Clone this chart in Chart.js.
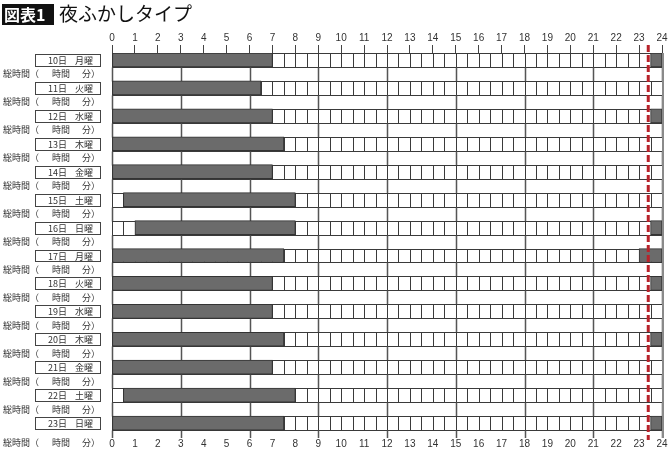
<!DOCTYPE html>
<html lang="ja">
<head>
<meta charset="utf-8">
<title>図表1 夜ふかしタイプ</title>
<script src="https://cdn.jsdelivr.net/npm/chart.js@4.4.1/dist/chart.umd.min.js"></script>
<style>
  html, body { margin: 0; padding: 0; background: #fff; }
  .chart-container { position: relative; width: 670px; height: 450px; }
</style>
</head>
<body>
<div class="chart-container">
  <canvas id="sleep-chart"></canvas>
</div>
<script>
// Sleep diary data (hours, 0-24)
const days = ['10日', '11日', '12日', '13日', '14日', '15日', '16日', '17日', '18日', '19日', '20日', '21日', '22日', '23日'];
const weekdays = ['月曜', '火曜', '水曜', '木曜', '金曜', '土曜', '日曜', '月曜', '火曜', '水曜', '木曜', '金曜', '土曜', '日曜'];
const sleepStart = [0, 0, 0, 0, 0, 0.5, 1, 0, 0, 0, 0, 0, 0.5, 0];
const sleepEnd = [7, 6.5, 7, 7.5, 7, 8, 8, 7.5, 7, 7, 7.5, 7, 8, 7.5];
const lateStart = [23.5, null, 23.5, null, null, null, 23.5, 23, 23.5, null, 23.5, null, null, 23.5];
const lateEnd = [24, null, 24, null, null, null, 24, 24, 24, null, 24, null, null, 24];
const bedLine = 23.4;   // red dashed line
const hourMin = 0;
const hourMax = 24;

const FONT = '"Noto Sans CJK JP", "Noto Sans", sans-serif';
const INK = '#333';

// each day uses two rows: the sleep row (2i..2i+1) and the total row (2i+1..2i+2)
function toBars(starts, ends) {
  const out = [];
  days.forEach((d, i) => {
    if (starts[i] === null) return;
    out.push({ y: 2 * i + 0.5, x: [starts[i], ends[i]] });
  });
  return out;
}

// 🗓 grid: half-hour cells on sleep rows, 3-hour lines on total rows
const gridPlugin = {
  id: 'diaryGrid',
  beforeDatasetsDraw(chart) {
    const { ctx, scales: { x, y } } = chart;
    const x0 = x.getPixelForValue(hourMin);
    const x1 = x.getPixelForValue(hourMax);
    const yEnd = y.getPixelForValue(y.max);
    ctx.save();
    ctx.lineWidth = 1;
    days.forEach((d, i) => {
      const top = Math.round(y.getPixelForValue(2 * i)) + 0.5;
      const bot = Math.round(y.getPixelForValue(2 * i + 1)) + 0.5;
      const next = i === days.length - 1 ? yEnd : Math.round(y.getPixelForValue(2 * i + 2)) + 0.5;

      ctx.fillStyle = '#fff';
      ctx.fillRect(x0, top, x1 - x0, bot - top);
      ctx.strokeStyle = '#3a3a3a';
      ctx.beginPath();
      ctx.moveTo(x0, top); ctx.lineTo(x1, top);
      ctx.moveTo(x0, bot); ctx.lineTo(x1, bot);
      for (let h = hourMin; h <= hourMax; h += 0.5) {
        const px = Math.round(x.getPixelForValue(h)) + 0.5;
        ctx.moveTo(px, top); ctx.lineTo(px, bot);
      }
      ctx.stroke();

      ctx.strokeStyle = '#555';
      ctx.lineWidth = 1.5;
      ctx.beginPath();
      for (let h = hourMin; h <= hourMax; h += 3) {
        const px = Math.round(x.getPixelForValue(h)) + 0.5;
        ctx.moveTo(px, bot); ctx.lineTo(px, next);
      }
      ctx.stroke();
      ctx.lineWidth = 1;
    });
    // grey right edge
    ctx.strokeStyle = '#8a8a8a';
    ctx.lineWidth = 2;
    ctx.beginPath();
    ctx.moveTo(x1 + 1, y.getPixelForValue(0));
    ctx.lineTo(x1 + 1, yEnd);
    ctx.stroke();
    ctx.restore();
  },
  afterDatasetsDraw(chart) {
    const { ctx, scales: { x, y } } = chart;
    // 🔴 dashed bedtime line
    const px = x.getPixelForValue(bedLine);
    ctx.save();
    ctx.strokeStyle = '#b8232b';
    ctx.lineWidth = 3;
    ctx.setLineDash([7, 3]);
    ctx.beginPath();
    ctx.moveTo(px, y.getPixelForValue(0) - 8);
    ctx.lineTo(px, y.getPixelForValue(y.max) + 2);
    ctx.stroke();
    ctx.restore();
  }
};

// 🏷 left labels + title
const labelPlugin = {
  id: 'diaryLabels',
  afterDraw(chart) {
    const { ctx, scales: { y, x2 } } = chart;
    ctx.save();
    ctx.textBaseline = 'middle';
    ctx.font = '9px ' + FONT;
    days.forEach((d, i) => {
      const top = Math.round(y.getPixelForValue(2 * i)) + 1.5;
      const bot = Math.round(y.getPixelForValue(2 * i + 1)) - 0.5;
      const mid = (top + bot) / 2;
      ctx.fillStyle = '#fff';
      ctx.fillRect(35.5, top, 65, bot - top);
      ctx.strokeStyle = '#444';
      ctx.lineWidth = 1;
      ctx.strokeRect(35.5, top, 65, bot - top);

      ctx.fillStyle = INK;
      ctx.textAlign = 'left';
      ctx.fillText(d, 48, mid + 0.5);
      ctx.fillText(weekdays[i], 75, mid + 0.5);

      const tMid = i === days.length - 1 ? x2.top + 5 : y.getPixelForValue(2 * i + 1.5);
      ctx.fillText('総時間（', 3, tMid);
      ctx.fillText('時間', 52, tMid);
      ctx.textAlign = 'right';
      ctx.fillText('分）', 100, tMid);
    });

    // title
    ctx.fillStyle = '#111';
    ctx.fillRect(2, 4, 52, 21);
    ctx.textAlign = 'left';
    ctx.fillStyle = '#fff';
    ctx.font = 'bold 16px ' + FONT;
    ctx.fillText('図表1', 4, 15);
    ctx.fillStyle = '#111';
    ctx.font = '19px ' + FONT;
    ctx.fillText('夜ふかしタイプ', 59, 14);
    ctx.restore();
  }
};

const hourTicks = {
  stepSize: 1,
  color: INK,
  font: { size: 10, family: '"Liberation Sans", Arial, sans-serif' },
  maxRotation: 0,
  autoSkip: false
};

const barStyle = {
  backgroundColor: '#6b6b6b',
  borderColor: '#333',
  borderWidth: 1,
  borderSkipped: false,
  barThickness: 14,
  grouped: false,
  xAxisID: 'x',
  yAxisID: 'y'
};

new Chart(document.getElementById('sleep-chart'), {
  type: 'bar',
  data: {
    datasets: [
      { label: '睡眠', data: toBars(sleepStart, sleepEnd), ...barStyle },
      { label: '夜ふかし', data: toBars(lateStart, lateEnd), ...barStyle }
    ]
  },
  options: {
    indexAxis: 'y',
    responsive: true,
    maintainAspectRatio: false,
    animation: false,
    layout: { padding: { top: 31, left: 112, right: 8, bottom: 0 } },
    plugins: {
      legend: { display: false },
      tooltip: { enabled: false },
      title: { display: false }
    },
    scales: {
      x: {
        type: 'linear',
        position: 'top',
        min: hourMin,
        max: hourMax,
        ticks: { ...hourTicks, padding: 1 },
        grid: { drawOnChartArea: false, drawTicks: true, tickLength: 8, color: '#444', offset: false },
        border: { display: false }
      },
      x2: {
        type: 'linear',
        position: 'bottom',
        min: hourMin,
        max: hourMax,
        ticks: { ...hourTicks, padding: 0 },
        grid: { display: false, drawTicks: false, tickLength: 0 },
        border: { display: false }
      },
      y: {
        type: 'linear',
        display: false,
        reverse: true,
        offset: false,
        grid: { offset: false },
        min: 0,
        max: 27.57
      }
    }
  },
  plugins: [gridPlugin, labelPlugin]
});
</script>
</body>
</html>
